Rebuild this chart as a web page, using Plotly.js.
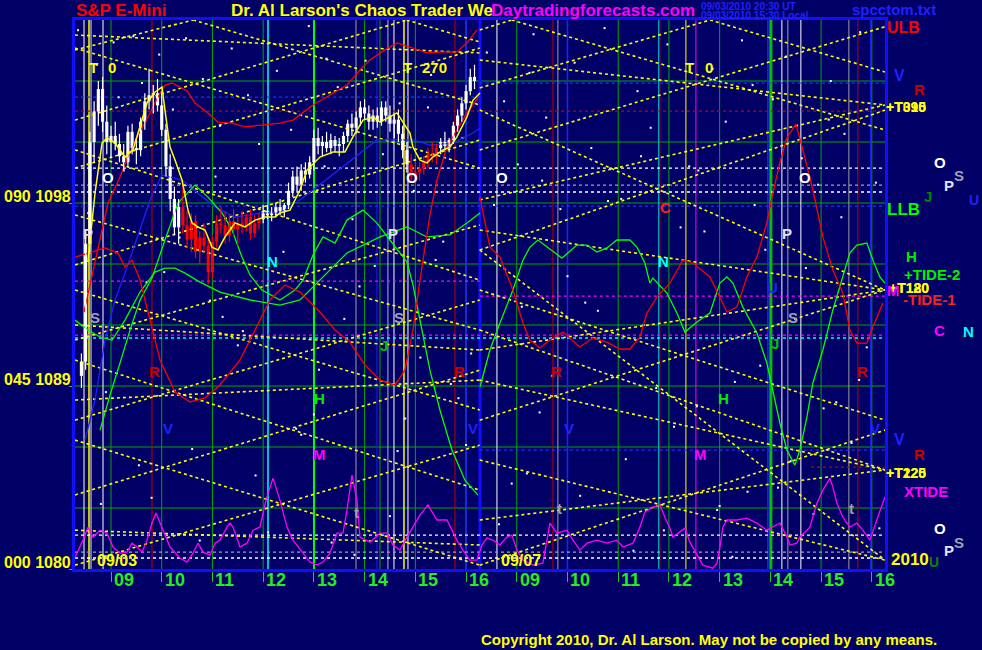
<!DOCTYPE html>
<html><head><meta charset="utf-8">
<script src="https://cdn.plot.ly/plotly-3.0.1.min.js"></script>
<style>html,body{margin:0;padding:0;background:#000066;}#chart{width:982px;height:650px;}</style>
</head><body><div id="chart"></div>
<script>
// x axis: continuous session hours; day 2 (09/07) clock hours are shown with +8 (overnight gap removed)
var gridHours = [9,10,11,12,13,14,15,16,17,18,19,20,21,22,23,24];
var hourLabels = ['09','10','11','12','13','14','15','16','09','10','11','12','13','14','15','16'];
var priceTicks = [1098,1089,1080];
var priceLabels = ['090 1098','045 1089','000 1080'];

// 5-minute bars, 09/03 from 08:25
var barStart = 8 + 25/60, barMinutes = 5;
var barOpen = [1089.5,1090.2,1096.0,1101.0,1102.5,1103.6,1102.0,1101.0,1101.3,1100.9,1100.3,1100.0,1101.5,1100.7,1100.6,1102.0,1103.0,1103.3,1103.4,1102.8,1101.6,1099.8,1098.2,1096.8,1097.8,1096.9,1096.2,1097.1,1095.6,1096.3,1095.9,1094.6,1096.1,1097.0,1096.9,1096.4,1097.1,1096.7,1097.0,1096.8,1097.3,1096.5,1097.0,1097.2,1097.6,1097.4,1097.5,1097.8,1097.6,1097.9,1098.6,1099.3,1098.9,1099.6,1099.4,1100.0,1101.2,1100.8,1101.0,1100.7,1101.1,1100.8,1100.9,1101.3,1101.9,1101.7,1102.2,1102.7,1102.4,1102.0,1102.3,1102.0,1102.7,1102.3,1101.9,1102.1,1101.4,1100.6,1099.9,1099.3,1099.5,1099.7,1100.0,1100.4,1100.3,1100.7,1101.0,1100.8,1101.1,1101.8,1102.3,1102.9,1103.5,1104.2];
var barHigh = [1090.6,1096.5,1101.5,1103.0,1104.0,1104.2,1102.8,1101.8,1102.0,1101.4,1100.9,1101.8,1101.9,1101.2,1102.2,1103.4,1104.6,1103.8,1104.1,1103.5,1101.9,1100.4,1098.8,1098.2,1098.9,1097.6,1097.5,1097.4,1096.6,1097.0,1096.3,1096.4,1097.4,1097.8,1097.6,1097.4,1097.7,1097.3,1097.6,1097.5,1097.7,1097.4,1097.5,1097.9,1097.9,1097.8,1098.0,1098.2,1098.0,1099.0,1099.6,1099.8,1099.9,1100.0,1100.3,1101.6,1101.7,1101.3,1101.5,1101.4,1101.3,1101.2,1101.5,1102.1,1102.4,1102.5,1103.0,1103.1,1102.8,1102.6,1102.7,1103.0,1103.0,1102.8,1102.4,1102.6,1101.8,1101.0,1100.4,1099.9,1100.0,1100.3,1100.7,1101.0,1100.9,1101.2,1101.5,1101.2,1102.0,1102.6,1103.2,1103.8,1104.6,1104.8];
var barLow = [1088.9,1089.8,1095.5,1100.0,1101.8,1101.5,1100.4,1100.2,1100.6,1100.0,1099.6,1099.8,1100.4,1099.9,1100.3,1101.6,1102.6,1102.4,1102.5,1101.3,1099.3,1097.6,1096.4,1096.0,1096.5,1095.8,1095.6,1095.3,1095.0,1095.6,1094.0,1094.3,1095.8,1096.5,1096.0,1096.1,1096.4,1095.9,1096.5,1096.6,1096.2,1096.3,1096.7,1097.0,1097.2,1097.1,1097.3,1097.4,1097.3,1097.7,1098.3,1098.5,1098.6,1099.0,1099.2,1099.6,1100.4,1100.3,1100.5,1100.4,1100.5,1100.3,1100.5,1101.0,1101.3,1101.4,1101.8,1102.1,1101.6,1101.6,1101.7,1101.8,1102.0,1101.5,1101.2,1101.0,1100.2,1099.5,1099.0,1098.9,1099.1,1099.4,1099.7,1100.0,1099.9,1100.4,1100.6,1100.5,1100.9,1101.5,1102.0,1102.6,1103.3,1103.6];
var barClose = [1090.2,1096.0,1101.0,1102.5,1103.6,1102.0,1101.0,1101.3,1100.9,1100.3,1100.0,1101.5,1100.7,1100.6,1102.0,1103.0,1103.3,1103.4,1102.8,1101.6,1099.8,1098.2,1096.8,1097.8,1096.9,1096.2,1097.1,1095.6,1096.3,1095.9,1094.6,1096.1,1097.0,1096.9,1096.4,1097.1,1096.7,1097.0,1096.8,1097.3,1096.5,1097.0,1097.2,1097.6,1097.4,1097.5,1097.8,1097.6,1097.9,1098.6,1099.3,1098.9,1099.6,1099.4,1100.0,1101.2,1100.8,1101.0,1100.7,1101.1,1100.8,1100.9,1101.3,1101.9,1101.7,1102.2,1102.7,1102.4,1102.0,1102.3,1102.0,1102.7,1102.3,1101.9,1102.1,1101.4,1100.6,1099.9,1099.3,1099.5,1099.7,1100.0,1100.4,1100.3,1100.7,1101.0,1100.8,1101.1,1101.8,1102.3,1102.9,1103.5,1104.2,1104.0];
// bar colour: w = white, r = red
var barColour = 'wwwwwwwwwwwwwwwwwwwwwwww' + 'rrrrrrrrrrrrrrrrrrr' + 'wwwwwwwwwwwwwwwwwwwwwwwwwwwwwwwwwww' + 'rrrrrrr' + 'wwwwwwwww';

// curves
var yellowX = [8.547,8.685,8.823,8.921,9.079,9.276,9.434,9.532,9.710,9.867,10.005,10.064,10.163,10.262,10.400,10.518,10.597,10.715,10.853,10.991,11.109,11.247,11.444,11.641,11.839,12.036,12.233,12.331,12.528,12.726,12.864,13.120,13.376,13.613,13.770,13.968,14.165,14.303,14.638,14.756,14.894,14.953,15.091,15.229,15.347,15.544,15.682,15.820,16.017,16.136,16.274];
var yellowY = [1095.19,1098.49,1100.95,1101.20,1100.95,1100.26,1100.61,1101.44,1102.92,1103.46,1103.70,1102.57,1100.75,1100.11,1099.13,1097.65,1097.02,1096.82,1096.67,1095.83,1095.69,1096.33,1097.02,1096.82,1097.16,1097.31,1097.31,1097.51,1097.65,1098.64,1099.62,1100.26,1100.51,1100.51,1101.25,1102.08,1102.23,1101.98,1102.43,1101.98,1101.44,1100.75,1100.11,1099.97,1100.26,1100.61,1100.75,1101.25,1102.23,1103.05,1103.41];

var redAX = [8.468,8.685,8.941,9.177,9.335,9.532,9.729,9.926,10.064,10.202,10.360,10.498,10.656,10.912,11.109,11.385,11.641,11.976,12.331,12.588,12.982,13.317,13.652,13.908,14.105,14.401,14.638,14.894,15.229,15.544,15.820,16.017,16.215];
var redAY = [1092.64,1095.10,1098.00,1099.28,1100.26,1101.34,1102.23,1103.21,1103.80,1103.90,1103.70,1103.51,1102.92,1102.43,1101.98,1101.93,1101.74,1101.83,1101.93,1102.08,1102.82,1103.31,1103.80,1104.54,1105.03,1105.53,1105.87,1105.67,1105.38,1105.43,1105.43,1105.87,1106.51];
var redBX = [8.290,8.547,8.882,9.138,9.276,9.414,9.572,9.769,9.966,10.262,10.557,10.853,11.149,11.543,11.839,12.134,12.430,12.726,13.120,13.416,13.711,14.007,14.303,14.598,14.795,14.953,15.091,15.288,15.426,15.623,16.017,16.234];
var redBY = [1095.34,1095.54,1095.79,1095.54,1094.85,1095.19,1094.21,1092.24,1090.28,1088.70,1088.21,1088.41,1089.05,1090.28,1091.75,1093.23,1093.97,1093.62,1092.64,1091.75,1091.16,1090.03,1089.29,1089.05,1089.78,1091.75,1094.21,1097.41,1099.13,1100.75,1102.43,1103.16];
var redCX = [16.274,16.471,16.668,16.924,17.121,17.259,17.456,17.654,17.910,18.245,18.501,18.777,19.033,19.230,19.428,19.566,19.763,20.019,20.275,20.473,20.808,21.005,21.143,21.340,21.537,21.734,21.931,22.049,22.187,22.326,22.503,22.641,22.838,23.035,23.232,23.429,23.567,23.705,23.903,24.021,24.218];
var redCY = [1098.29,1095.83,1095.34,1093.72,1092.10,1091.26,1090.87,1091.26,1091.65,1090.92,1091.36,1091.16,1090.82,1090.82,1091.41,1092.59,1093.37,1094.06,1095.19,1095.05,1094.36,1093.37,1092.64,1092.88,1094.36,1095.34,1097.02,1098.49,1099.97,1101.20,1101.88,1100.61,1098.64,1096.33,1094.70,1093.57,1091.75,1091.11,1091.11,1091.90,1093.08];

var greenAX = [8.783,8.980,9.177,9.375,9.572,9.808,10.064,10.321,10.656,10.912,11.188,11.385,11.582,11.740,11.976,12.331,12.627,12.785,12.982,13.179,13.416,13.652,13.968,14.244,14.500,14.835,14.953,15.091,15.288,15.485,15.722,15.978,16.234];
var greenAY = [1086.83,1088.55,1090.13,1091.75,1093.23,1094.31,1096.18,1098.00,1098.88,1098.29,1097.51,1096.67,1095.34,1094.46,1093.72,1093.23,1093.72,1094.21,1095.44,1096.33,1096.03,1097.16,1097.65,1097.01,1096.18,1095.10,1093.97,1092.24,1089.78,1087.82,1085.85,1084.37,1083.63];
var greenBX = [8.290,8.547,8.783,9.020,9.276,9.572,9.867,10.064,10.262,10.459,10.754,11.149,11.740,12.331,12.726,13.179,13.652,14.303,14.835,15.229,15.682,16.017,16.274];
var greenBY = [1092.24,1091.75,1091.41,1091.26,1092.24,1093.62,1094.60,1094.80,1094.80,1094.55,1094.11,1093.62,1093.23,1092.98,1093.23,1094.36,1095.54,1096.33,1096.82,1096.33,1096.43,1097.02,1097.51];
var greenCX = [16.274,16.471,16.668,16.924,17.121,17.259,17.417,17.595,17.890,18.186,18.383,18.580,18.777,18.974,19.231,19.369,19.526,19.625,19.684,19.960,20.157,20.315,20.552,20.808,21.005,21.143,21.261,21.458,21.734,21.931,22.049,22.187,22.326,22.483,22.582,22.720,22.838,23.035,23.232,23.429,23.567,23.705,23.903,24.021,24.159,24.257];
var greenCY = [1088.95,1090.77,1092.10,1093.72,1095.19,1095.83,1096.18,1095.83,1095.29,1095.93,1095.93,1095.59,1095.79,1096.18,1096.18,1095.83,1095.05,1094.06,1094.31,1093.57,1092.59,1091.65,1092.15,1092.59,1094.06,1094.36,1094.06,1092.88,1091.61,1090.13,1088.80,1087.18,1085.85,1085.11,1085.85,1087.47,1089.15,1090.77,1092.74,1094.36,1095.54,1095.93,1096.03,1095.19,1094.36,1094.06];

var blueX = [8.487,8.685,8.882,9.079,9.276,9.572,9.769,10.005,10.400,10.754,11.050,11.444,11.976,12.331,12.726,12.982,13.652,14.244,14.953,15.288,15.741,16.136,16.274];
var blueY = [1086.34,1088.31,1091.26,1093.23,1094.55,1096.67,1098.15,1099.38,1099.13,1098.39,1097.80,1097.31,1097.51,1097.51,1098.15,1098.64,1099.97,1101.10,1101.10,1100.85,1100.95,1101.44,1101.69];

var tideX = [8.290,8.448,8.547,8.645,8.783,8.921,9.040,9.177,9.315,9.414,9.513,9.611,9.710,9.808,9.887,10.025,10.163,10.360,10.498,10.616,10.715,10.814,10.951,11.050,11.149,11.286,11.346,11.405,11.543,11.681,11.799,11.937,12.055,12.193,12.331,12.469,12.588,12.785,12.923,13.061,13.179,13.317,13.455,13.573,13.652,13.751,13.849,13.908,14.105,14.303,14.441,14.559,14.697,14.835,14.953,15.091,15.249,15.426,15.623,15.820,15.939,16.077,16.215,16.313,16.412,16.530,16.668,16.806,16.904,17.003,17.121,17.318,17.515,17.654,17.792,17.989,18.107,18.245,18.383,18.580,18.777,18.974,19.092,19.290,19.428,19.526,19.684,19.822,19.920,20.019,20.078,20.216,20.315,20.413,20.552,20.670,20.867,20.946,21.005,21.064,21.143,21.340,21.537,21.734,21.931,22.049,22.187,22.326,22.385,22.523,22.582,22.779,22.917,23.035,23.173,23.232,23.311,23.429,23.567,23.705,23.823,23.961,24.100,24.257];
var tideY = [1080.58,1081.42,1082.06,1081.57,1081.91,1081.76,1081.08,1080.78,1080.83,1081.27,1081.08,1080.83,1081.42,1082.26,1082.75,1081.91,1081.08,1080.54,1080.34,1080.78,1081.27,1080.83,1080.68,1081.27,1081.42,1082.06,1082.26,1082.06,1081.08,1081.27,1081.91,1082.06,1083.39,1084.47,1083.39,1082.06,1081.42,1080.78,1080.34,1080.19,1080.34,1080.78,1081.76,1081.76,1082.90,1084.62,1083.39,1081.57,1081.32,1081.76,1081.76,1081.18,1080.93,1081.57,1082.06,1082.65,1083.15,1082.41,1082.41,1081.42,1080.93,1080.44,1080.44,1081.18,1081.52,1081.42,1081.18,1081.57,1081.67,1080.93,1080.44,1080.19,1080.29,1082.26,1081.76,1081.91,1081.42,1080.93,1081.27,1081.42,1081.27,1081.42,1081.08,1081.27,1082.06,1082.80,1083.04,1083.15,1082.55,1082.01,1081.57,1081.82,1082.01,1081.32,1080.68,1080.19,1080.04,1080.29,1081.08,1082.06,1082.41,1082.41,1082.50,1082.26,1081.91,1082.06,1082.26,1081.57,1081.18,1081.27,1081.57,1082.06,1083.24,1083.88,1084.47,1084.03,1083.24,1082.55,1082.06,1082.26,1081.91,1081.42,1082.41,1083.54];

// yellow dotted time/price lines (start x, start y, end x, end y)
var segX0 = [8.29,10.62,8.29,14.83,8.29,8.29,8.29,8.29,8.29,8.29,8.29,8.29,8.29,8.29,8.29,8.29,8.29,8.29,8.29,8.29,16.27,16.90,16.27,20.81,16.27,16.27,16.27,16.27,16.27,16.27,16.27,16.27,16.27,16.27,16.27,16.27,16.27,16.27,16.27];
var segY0 = [1105.53,1107.0,1102.08,1107.0,1106.26,1105.62,1099.72,1100.61,1094.95,1097.41,1091.26,1093.72,1087.32,1090.28,1083.64,1086.34,1080.19,1092.00,1088.31,1081.91,1106.51,1107.0,1103.66,1107.0,1100.61,1105.03,1098.15,1095.69,1102.57,1096.67,1090.77,1093.72,1087.32,1089.29,1082.41,1085.36,1080.19,1091.75,1095.69];
var segX1 = [10.62,16.27,14.83,16.27,16.27,16.27,16.27,16.27,16.27,16.27,16.27,16.27,16.27,16.27,16.27,16.27,16.27,16.27,16.27,16.27,16.90,24.26,20.81,24.26,24.26,24.26,24.26,24.26,24.26,24.26,24.26,24.26,24.26,24.26,24.26,24.26,24.26,24.26,24.26];
var segY1 = [1107.0,1102.82,1107.0,1105.92,1105.38,1099.72,1105.62,1094.21,1101.10,1091.75,1096.92,1087.82,1093.23,1083.88,1089.78,1080.19,1086.09,1090.77,1089.29,1081.18,1107.0,1101.59,1107.0,1104.44,1106.67,1102.82,1102.82,1102.57,1093.72,1093.72,1093.72,1087.32,1093.72,1084.87,1084.87,1080.44,1086.83,1084.87,1080.44];

// vertical event lines
var vLineX = [8.468,8.566,8.606,8.842,9.808,12.095,13.002,13.830,14.244,14.303,14.460,14.579,14.776,14.855,15.781,16.0,16.274,16.609,17.713,17.811,18.0,19.802,19.822,20.335,20.532,21.951,22.010,22.227,22.345,22.601,23.548,23.725,23.981];
var vLineColour = ['#ffffff','#ffff00','#a0a0a0','#ffffff','#c00000','#00ffff','#00ff00','#a0a0a0','#2020ff','#00a800','#b0b0e0','#ffffff','#ffff00','#ffffff','#c00000','#2020ff','#1010ff','#ffffff','#c00000','#a0a0a0','#2020ff','#00ffff','#c00000','#ffff00','#ff00ff','#2020ff','#00c000','#ffffff','#a0a0a0','#ffffff','#a0a0a0','#c00000','#2020ff'];
var vLineWidth = [1,1.5,1.5,1,1,1.5,2,1,1,1,1,1,1.5,1,1,1.5,3,1,1,1,1.5,1,1,1,1,1.5,3,1,1,1,1,1,1.5];

// horizontal level lines
var gridPrices = [1083,1086,1089,1092,1095,1098,1101,1104];
var hLineY  = [1103.21,1103.90,1097.85,1085.85,1102.52,1085.01,1099.72,1098.54,1081.67,1080.54,1098.88,1080.83,1094.16,1093.42,1091.50,1091.36];
var hLineX0 = [8.29,16.27,8.29,16.27,8.29,22.80,8.29,8.29,8.29,8.29,8.29,8.29,8.29,16.27,8.29,8.29];
var hLineX1 = [16.27,24.26,24.26,24.26,24.26,24.26,24.26,24.26,24.26,24.26,24.26,24.26,16.27,24.26,24.26,24.26];
var hLineColour = ['#2030ff','#2030ff','#2030ff','#2030ff','#c00000','#c00000','#ffffff','#ffffff','#ffffff','#ffffff','#a0a0c0','#a0a0c0','#ff00ff','#ff00ff','#ff00ff','#00ffff'];

// background dots
var dotX = [8.35,8.72,9.05,9.44,9.61,9.95,10.22,10.48,10.81,11.06,11.38,11.70,11.92,12.27,12.55,12.90,13.21,13.47,13.76,14.02,14.36,14.69,14.97,15.31,15.55,15.93,16.41,16.75,17.02,17.33,17.58,17.86,18.14,18.47,18.73,19.06,19.38,19.64,19.97,20.23,20.58,20.86,21.12,21.44,21.69,22.05,22.31,22.62,22.94,23.19,23.46,23.77,24.08,8.90,9.80,10.60,11.50,12.10,13.00,13.90,14.50,15.10,16.00,16.90,17.70,18.60,19.30,20.10,21.00,21.80,22.40,23.30,24.15,10.05,12.75,15.70,18.35,20.95,23.05,17.20,19.75,21.55,23.60,11.20,13.35,
  8.55,9.25,9.70,10.35,10.95,11.60,12.40,13.10,13.60,14.20,14.80,15.40,16.10,16.55,17.10,17.50,18.00,18.80,19.50,20.40,20.70,21.30,21.90,22.70,23.40,23.90,
  8.80,9.55,10.75,11.85,12.65,13.80,14.65,15.85,16.65,17.45,18.25,19.15,19.90,20.55,21.25,22.15,22.85,23.75,
  9.15,11.15,13.25,15.25,17.25,19.45,21.65,23.15];
var dotY = [1106.5,1104.8,1105.9,1106.2,1103.9,1105.3,1102.6,1106.1,1104.1,1099.3,1105.6,1103.3,1100.9,1104.5,1101.6,1106.7,1099.8,1103.7,1097.2,1105.0,1100.4,1102.9,1098.6,1104.3,1096.1,1101.2,1105.4,1103.0,1099.9,1106.3,1102.2,1097.7,1104.9,1100.7,1106.6,1098.2,1103.5,1101.7,1105.8,1096.8,1099.6,1104.6,1102.0,1106.0,1097.9,1103.1,1105.2,1100.2,1098.9,1104.0,1101.4,1106.4,1099.0,1088.7,1083.5,1085.9,1091.0,1081.8,1087.6,1093.9,1082.6,1090.4,1086.1,1084.2,1089.5,1092.7,1080.9,1087.0,1083.1,1090.0,1085.3,1088.2,1082.0,1094.6,1086.6,1089.1,1093.1,1082.9,1087.9,1084.7,1088.9,1083.8,1086.2,1092.4,1081.3,
  1097.5,1099.6,1094.1,1096.3,1093.2,1091.7,1095.6,1089.8,1092.3,1094.9,1087.4,1095.2,1090.6,1097.9,1092.9,1099.1,1094.4,1098.1,1092.0,1099.8,1096.6,1089.2,1095.7,1094.8,1097.3,1090.9,
  1083.2,1085.1,1081.4,1084.6,1086.9,1080.7,1085.8,1088.4,1082.2,1087.7,1083.6,1085.4,1081.9,1088.0,1080.6,1084.0,1082.7,1089.3,
  1103.2,1101.8,1105.1,1102.7,1104.4,1100.3,1103.8,1102.1];

// ---------- build ----------
var traces = [];
var sx = [], sy = [];
for (var i = 0; i < segX0.length; i++) { sx.push(segX0[i], segX1[i], null); sy.push(segY0[i], segY1[i], null); }
traces.push({type:'scatter', mode:'lines', x:sx, y:sy, line:{color:'#ffff00', width:1.6, dash:'dot'}, hoverinfo:'skip', showlegend:false});
traces.push({type:'scatter', mode:'markers', x:dotX, y:dotY, marker:{color:'#ffffff', size:2, symbol:'square'}, hoverinfo:'skip', showlegend:false});

function line(x, y, c, w) { return {type:'scatter', mode:'lines', x:x, y:y, line:{color:c, width:w}, hoverinfo:'skip', showlegend:false}; }
traces.push(line(tideX, tideY, '#ff00ff', 1.3));
traces.push(line(blueX, blueY, '#2020ff', 1.3));
traces.push(line(greenAX, greenAY, '#00ff00', 1.3));
traces.push(line(greenBX, greenBY, '#00ff00', 1.3));
traces.push(line(greenCX, greenCY, '#00ff00', 1.3));
traces.push(line(redAX, redAY, '#ff0000', 1.3));
traces.push(line(redBX, redBY, '#ff0000', 1.3));
traces.push(line(redCX, redCY, '#ff0000', 1.3));

// price bars: wick lines + body bars, in the bar's colour
function priceBars(flag, colour) {
  var wx = [], wy = [], bx = [], bb = [], bh = [];
  for (var k = 0; k < barOpen.length; k++) {
    if (barColour.charAt(k) !== flag) continue;
    var t = barStart + k * barMinutes / 60;
    wx.push(t, t, null); wy.push(barLow[k], barHigh[k], null);
    var lo = Math.min(barOpen[k], barClose[k]), hi = Math.max(barOpen[k], barClose[k]);
    bx.push(t); bb.push(lo); bh.push(Math.max(hi - lo, 0.1));
  }
  traces.push({type:'scatter', mode:'lines', x:wx, y:wy, line:{color:colour, width:1.2}, hoverinfo:'skip', showlegend:false});
  traces.push({type:'bar', x:bx, y:bh, base:bb, width:0.062, marker:{color:colour, line:{width:0}}, hoverinfo:'skip', showlegend:false});
}
priceBars('w', '#ffffff');
priceBars('r', '#ff0000');
traces.push(line(yellowX, yellowY, '#ffff00', 1.5));

var shapes = [];
gridHours.forEach(function (h) {
  shapes.push({type:'line', xref:'x', yref:'paper', x0:h, x1:h, y0:0, y1:1, line:{color:'#00a800', width:1}, layer:'below'});
});
gridPrices.forEach(function (p) {
  shapes.push({type:'line', xref:'paper', yref:'y', x0:0, x1:1, y0:p, y1:p, line:{color:'#00a800', width:1}, layer:'below'});
});
for (var j = 0; j < hLineY.length; j++) {
  shapes.push({type:'line', xref:'x', yref:'y', x0:hLineX0[j], x1:hLineX1[j], y0:hLineY[j], y1:hLineY[j], line:{color:hLineColour[j], width:1.3, dash:'dot'}, layer:'below'});
}
for (var v = 0; v < vLineX.length; v++) {
  shapes.push({type:'line', xref:'x', yref:'paper', x0:vLineX[v], x1:vLineX[v], y0:0, y1:1, line:{color:vLineColour[v], width:vLineWidth[v]}, layer:'below'});
}

var FONT = 'Liberation Sans, Arial, sans-serif';
var ann = [];
function A(text, x, y, color, size, o) {
  o = o || {};
  ann.push({text:'<b>' + text + '</b>', x:x, y:y, xref:o.xref || 'x', yref:o.yref || 'y',
    xanchor:o.xa || 'center', yanchor:o.ya || 'middle', showarrow:false, borderpad:0,
    font:{family:FONT, size:size, color:color}, xshift:o.xs || 0, yshift:o.ys || 0});
}
// header / footer
A('S&amp;P E-Mini', 0, 1.0164, '#ff0000', 17, {xref:'paper', yref:'paper', xa:'left'});
A("Dr. Al Larson's Chaos Trader We", 0.1914, 1.0164, '#ffff00', 17, {xref:'paper', yref:'paper', xa:'left'});
A('Daytradingforecasts.com', 0.5123, 1.0164, '#ff00ff', 17, {xref:'paper', yref:'paper', xa:'left'});
A('09/03/2010 20:30 UT', 0.7716, 1.0255, '#2020ff', 10, {xref:'paper', yref:'paper', xa:'left'});
A('09/03/2010 15:30 Local', 0.7716, 1.0091, '#2020ff', 10, {xref:'paper', yref:'paper', xa:'left'});
A('spcctom.txt', 0.958, 1.0200, '#2020ff', 15, {xref:'paper', yref:'paper', xa:'left'});
A('Copyright 2010, Dr. Al Larson. May not be copied by any means.', 0.5, -0.1293, '#ffff00', 15, {xref:'paper', yref:'paper', xa:'left'});
// axis labels
gridHours.forEach(function (h, i) { A(hourLabels[i], h, -0.02, '#22ee22', 18, {yref:'paper', xa:'left', xs:2}); });
priceTicks.forEach(function (p, i) { A(priceLabels[i], 0, p, '#ffff00', 16, {xref:'paper', xa:'right', ya:'bottom', xs:-3, ys:-3}); });
A('09/03', 8.704, 1080.44, '#ffff00', 16, {xa:'left'});
A('09/07', 16.668, 1080.44, '#ffff00', 16, {xa:'left'});
// chart letters
var lbl = [
 ['T',8.645,1104.64,'#ffff00'],['0',9.02,1104.64,'#ffff00'],['T',14.855,1104.64,'#ffff00'],['270',15.387,1104.64,'#ffff00'],
 ['T',20.413,1104.64,'#ffff00'],['0',20.788,1104.64,'#ffff00'],
 ['O',8.941,1099.23,'#ffffff'],['O',14.934,1099.23,'#ffffff'],['O',16.708,1099.23,'#ffffff'],['O',22.680,1099.23,'#ffffff'],
 ['P',8.547,1096.52,'#e0e0ff'],['P',14.559,1096.52,'#e0e0ff'],['P',22.326,1096.52,'#e0e0ff'],
 ['S',8.685,1092.39,'#a0a0b8'],['S',14.677,1092.39,'#a0a0b8'],['S',22.444,1092.39,'#a0a0b8'],
 ['R',9.867,1089.69,'#cc0000'],['R',15.880,1089.69,'#cc0000'],['R',17.792,1089.69,'#cc0000'],['R',23.824,1089.69,'#cc0000'],
 ['V',10.124,1086.93,'#2020ff'],['V',16.136,1086.93,'#2020ff'],['V',18.028,1086.93,'#2020ff'],['V',24.060,1086.93,'#2020ff'],
 ['H',13.120,1088.41,'#00ee00'],['H',21.084,1088.41,'#00ee00'],
 ['M',13.120,1085.65,'#ff00ff'],['M',20.630,1085.65,'#ff00ff'],
 ['N',12.174,1095.10,'#00ffff'],['N',19.901,1095.10,'#00ffff'],
 ['C',19.940,1097.80,'#ff2020'],['J',14.382,1091.01,'#00c000'],['J',22.089,1091.11,'#00c000'],['U',22.049,1093.82,'#2020ff'],
 ['t',13.849,1082.80,'#a0a0a0'],['t',17.851,1083.00,'#a0a0a0'],['t',23.607,1083.00,'#a0a0a0']
];
lbl.forEach(function (l) { A(l[0], l[1], l[2], l[3], 15); });
// right-hand side labels (paper coordinates)
var side = [
 ['ULB',1.0012,0.987,'#ff0000',16],['V',1.0099,0.898,'#2020ff',16],['R',1.0346,0.874,'#cc0000',15],
 ['+T090',1.0,0.842,'#ffff00',14],['+T315',1.0,0.842,'#ffff00',14],
 ['O',1.0593,0.741,'#ffffff',15],['S',1.084,0.716,'#a0a0b8',15],['P',1.0716,0.699,'#e0e0ff',15],
 ['J',1.0469,0.679,'#008800',15],['U',1.1024,0.672,'#2020ff',14],['LLB',1.0012,0.654,'#00ff00',17],
 ['H',1.0247,0.570,'#00ee00',15],['+TIDE-2',1.0222,0.536,'#00ee00',15],
 ['+T120',1.0037,0.512,'#ffff00',14],['+T180',1.0037,0.512,'#ffff00',14],['M',1.0012,0.508,'#ff00ff',15],
 ['-TIDE-1',1.021,0.490,'#ff2020',15],['C',1.0593,0.435,'#ff00ff',15],['N',1.095,0.432,'#00ffff',15],
 ['V',1.0099,0.236,'#2020ff',16],['R',1.0346,0.208,'#cc0000',15],
 ['+T120',1.0,0.174,'#ffff00',14],['+T225',1.0,0.174,'#ffff00',14],['XTIDE',1.0222,0.142,'#ff00ff',15],
 ['O',1.0593,0.0729,'#ffffff',15],['S',1.084,0.0474,'#a0a0b8',15],['P',1.0716,0.0328,'#e0e0ff',15],
 ['2010',1.0062,0.0164,'#ffff00',17],['U',1.0530,0.0128,'#008800',14]
];
side.forEach(function (s) { A(s[0], s[1], s[2], s[3], s[4], {xref:'paper', yref:'paper', xa:'left'}); });

var layout = {
  width:982, height:650, margin:{l:75, r:97, t:20, b:81, pad:0},
  paper_bgcolor:'#000066', plot_bgcolor:'#000066', showlegend:false, barmode:'overlay',
  xaxis:{range:[8.29,24.26], showgrid:false, zeroline:false, showline:true, mirror:true, linecolor:'#1010ff', linewidth:3,
    ticks:'outside', ticklen:10, tickcolor:'#22cc22', tickwidth:1, tickvals:gridHours, showticklabels:false, fixedrange:true},
  yaxis:{range:[1080,1107], showgrid:false, zeroline:false, showline:true, mirror:true, linecolor:'#1010ff', linewidth:3,
    ticks:'outside', ticklen:3, tickcolor:'#22cc22', tickvals:priceTicks, showticklabels:false, fixedrange:true},
  shapes:shapes, annotations:ann
};
Plotly.newPlot('chart', traces, layout, {staticPlot:true, displayModeBar:false});
</script></body></html>
